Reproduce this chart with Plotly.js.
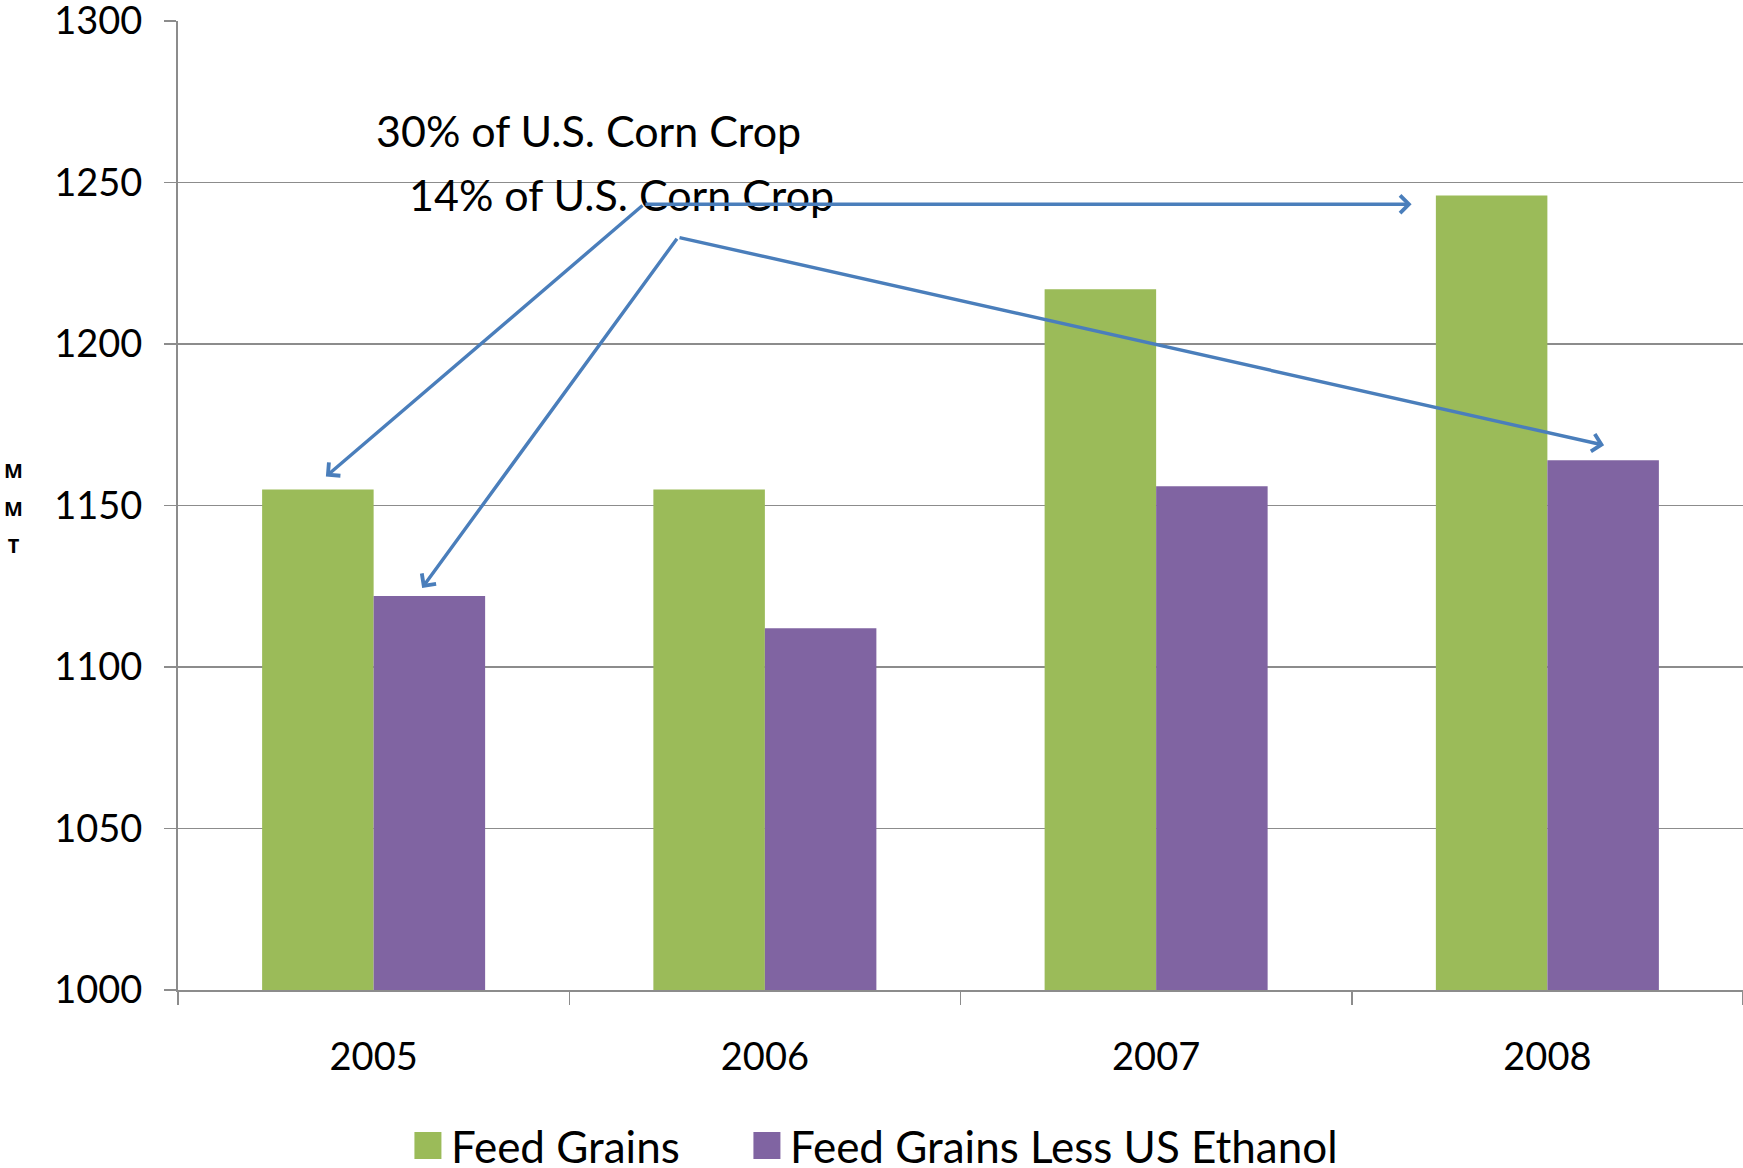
<!DOCTYPE html>
<html>
<head>
<meta charset="utf-8">
<script src="https://cdn.plot.ly/plotly-3.0.1.min.js"></script>
<style>html,body{margin:0;padding:0;background:#fff;}#chart{width:1743px;height:1168px;}</style>
</head>
<body>
<div id="chart"></div>
<script>
const years = ['2005', '2006', '2007', '2008'];
const feedGrains = [1155, 1155, 1217, 1246];
const feedGrainsLessEthanol = [1122, 1112, 1156, 1164];
const seriesNames = ['Feed Grains', 'Feed Grains Less US Ethanol'];
const yTicks = [1000, 1050, 1100, 1150, 1200, 1250, 1300];
const note30 = '30% of U.S. Corn Crop';
const note14 = '14% of U.S. Corn Crop';
const yLabel = ['M', 'M', 'T'];

const FONT = 'Lato, "Open Sans", sans-serif';
const GREEN = '#9BBB59', PURPLE = '#8064A2', ARROW = '#4A7EBB', GRID = '#8c8c8c';

const traces = [
  {type: 'bar', name: seriesNames[0], x: years, y: feedGrains, marker: {color: GREEN}, legendwidth: 288},
  {type: 'bar', name: seriesNames[1], x: years, y: feedGrainsLessEthanol, marker: {color: PURPLE}}
];

function arrow(xTip, yTip, xTail, yTail) {
  return {x: xTip, y: yTip, ax: xTail, ay: yTail, xref: 'x', yref: 'y', axref: 'x', ayref: 'y',
          text: '', showarrow: true, arrowhead: 4, arrowsize: 1.0, arrowwidth: 3.4, arrowcolor: ARROW,
          standoff: 0, startstandoff: 0};
}

const layout = {
  width: 1743, height: 1168,
  margin: {l: 178, r: 0, t: 21, b: 178, autoexpand: false},
  paper_bgcolor: '#fff', plot_bgcolor: '#fff',
  font: {family: FONT, color: '#000'},
  barmode: 'group', bargap: 0.43, bargroupgap: 0,
  showlegend: true,
  legend: {orientation: 'h', x: 0.145, xanchor: 'left', y: -0.161, yanchor: 'middle', itemwidth: 36,
           font: {size: 44, family: FONT, color: '#000'}, traceorder: 'normal'},
  xaxis: {type: 'category', tickson: 'boundaries', ticks: 'outside', ticklen: 13, tickwidth: 1.5,
          tickcolor: GRID, showline: true, linecolor: GRID, linewidth: 2, showgrid: false,
          tickfont: {size: 38, family: FONT, color: '#000'}, ticklabelstandoff: 32},
  yaxis: {range: [1000, 1300.05], tickvals: yTicks, ticks: 'outside', ticklen: 12, tickwidth: 1.5,
          tickcolor: GRID, showline: true, linecolor: GRID, linewidth: 2, showgrid: true,
          gridcolor: GRID, gridwidth: 1.5, zeroline: false, ticklabeloverflow: 'allow',
          tickfont: {size: 38, family: FONT, color: '#000'}, ticklabelstandoff: 14},
  annotations: [
    {text: note30, xref: 'paper', yref: 'y', x: 0.125, y: 1266.2, xanchor: 'left', yanchor: 'middle',
     showarrow: false, font: {size: 43, family: FONT, color: '#000'}},
    {text: note14, xref: 'paper', yref: 'y', x: 0.1465, y: 1246.4, xanchor: 'left', yanchor: 'middle',
     showarrow: false, font: {size: 43, family: FONT, color: '#000'}},
    arrow(-0.122, 1159, 0.691, 1243.3),
    arrow(2.653, 1243.3, 0.691, 1243.3),
    arrow(0.124, 1124.5, 0.778, 1233.1),
    arrow(3.145, 1168.7, 0.778, 1233.1),
    {text: yLabel.map(c => '<b><span style="font-size:20px">' + c + '</span></b>').join('<br>'),
     xref: 'paper', yref: 'paper', x: -0.1054, y: 0.497, xanchor: 'center', yanchor: 'middle',
     showarrow: false, font: {size: 29, family: '"Open Sans", Lato, sans-serif', color: '#000'}}
  ]
};

function bigSquares() {
  document.querySelectorAll('#chart .legendpoints path').forEach(p => {
    if (!p.hasAttribute('data-orig-tf')) {
      p.setAttribute('data-orig-tf', p.getAttribute('transform') || '');
    }
    const orig = p.getAttribute('data-orig-tf');
    p.setAttribute('transform', (orig ? orig + ' ' : '') + 'scale(2.25)');
  });
}
Plotly.newPlot('chart', traces, layout, {displayModeBar: false, staticPlot: true}).then(gd => {
  bigSquares();
  gd.on('plotly_afterplot', bigSquares);
});
</script>
</body>
</html>
